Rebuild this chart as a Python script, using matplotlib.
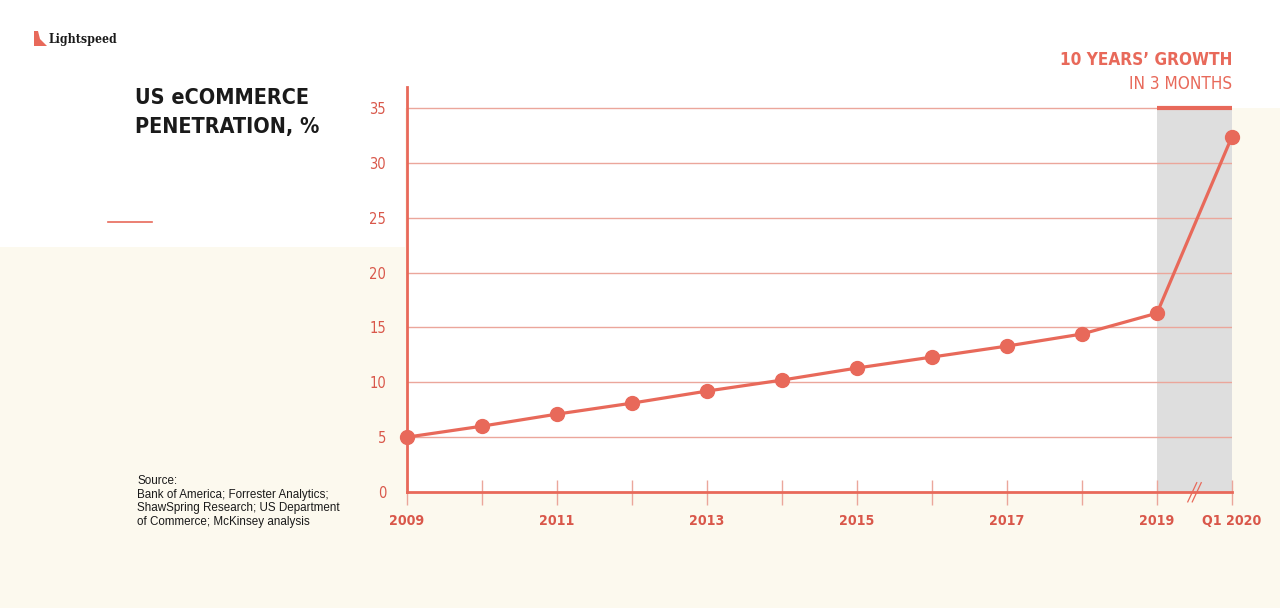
import matplotlib
matplotlib.use('Agg')
import matplotlib.pyplot as plt
from matplotlib.patches import Rectangle, Polygon
import matplotlib.lines as mlines

# dados - penetração do eCommerce nos EUA (%)
anos = ['2009', '2010', '2011', '2012', '2013', '2014', '2015', '2016', '2017', '2018', '2019', 'Q1 2020']
penetracao = [5.0, 6.0, 7.1, 8.1, 9.2, 10.2, 11.3, 12.3, 13.3, 14.4, 16.3, 32.4]
rotulos_x = ['2009', '', '2011', '', '2013', '', '2015', '', '2017', '', '2019', 'Q1 2020']
ticks_y = [0, 5, 10, 15, 20, 25, 30, 35]

vermelho = '#E8695A'
vermelho_txt = '#D9574A'
grade = '#EBA69B'
creme = '#FCF9EE'
cinza = '#DEDEDE'
narrow = dict(family='DejaVu Sans', fontstretch='condensed')

W, H = 1280, 608
fig = plt.figure(figsize=(W / 100, H / 100), dpi=100)
fig.patch.set_facecolor(creme)


def px(x, y):
    # converte pixel (topo-esquerda) para coordenadas da figura
    return x / W, 1 - y / H


# fundos brancos (atrás dos eixos)
fig.patches.append(Rectangle((0, 1 - 108 / H), 1, 108 / H, transform=fig.transFigure,
                             facecolor='white', edgecolor='none', zorder=-2))
fig.patches.append(Rectangle((0, 1 - 247 / H), 405 / W, 247 / H, transform=fig.transFigure,
                             facecolor='white', edgecolor='none', zorder=-2))
# tracinho vermelho à esquerda
fig.lines.append(mlines.Line2D([108 / W, 152 / W], [1 - 222 / H] * 2, transform=fig.transFigure,
                               color=vermelho, lw=1.2))

# logo
pts = [px(34, 31), px(38, 31), px(40, 39), px(47, 46), px(34, 46)]
fig.patches.append(Polygon(pts, closed=True, transform=fig.transFigure, facecolor=vermelho, edgecolor='none'))
fig.text(*px(49, 40), 'Lightspeed', fontsize=8.8, fontweight='bold', family='DejaVu Serif',
         fontstretch='condensed', color='#1a1a1a', va='center', ha='left')

# título
fig.text(*px(135, 88), 'US eCOMMERCE\nPENETRATION, %', fontsize=15.5, fontweight='bold', **narrow,
         color='#1a1a1a', va='top', ha='left', linespacing=1.55)

# cabeçalho da direita
fig.text(*px(1232, 60), '10 YEARS\u2019 GROWTH', fontsize=12.3, fontweight='bold', **narrow,
         color=vermelho, va='center', ha='right')
fig.text(*px(1232, 84), 'IN 3 MONTHS', fontsize=12.3, **narrow,
         color=vermelho, va='center', ha='right')

# fonte
fig.text(*px(137, 475), 'Source:\nBank of America; Forrester Analytics;\nShawSpring Research; US Department\nof Commerce; McKinsey analysis',
         fontsize=8.4, family='Liberation Sans', color='#1a1a1a', va='top', ha='left', linespacing=1.18)

# eixo principal
esq, dir_ = 407 / W, 1232 / W
base, topo = 1 - 492 / H, 1 - 87 / H
ax = fig.add_axes([esq, base, dir_ - esq, topo - base])
ax.set_facecolor('white')
x = list(range(len(anos)))
ymax = 35 + 21 / (384 / 35)
ax.set_xlim(0, len(anos) - 1)
ax.set_ylim(0, ymax)

# faixa cinza do último trimestre
ax.add_patch(Rectangle((x[-2], 0), 1, 35, facecolor=cinza, edgecolor='none', zorder=0))
ax.plot([x[-2], x[-1]], [35, 35], color=vermelho, lw=3, solid_capstyle='butt', zorder=3)

for v in ticks_y[1:]:
    ax.axhline(v, color=grade, lw=1, zorder=1)

ax.plot(x, penetracao, color=vermelho, lw=2.3, marker='o', markersize=10, zorder=4, clip_on=False)

for lado in ['top', 'right']:
    ax.spines[lado].set_visible(False)
for lado in ['left', 'bottom']:
    ax.spines[lado].set_color(vermelho)
    ax.spines[lado].set_linewidth(2)
    ax.spines[lado].set_zorder(5)

ax.set_yticks(ticks_y)
ax.set_yticklabels([str(v) for v in ticks_y], fontsize=10.5, **narrow, color=vermelho_txt)
ax.tick_params(axis='y', length=0, pad=15)
ax.set_xticks(x)
ax.set_xticklabels(rotulos_x, fontsize=10.2, fontweight='bold', **narrow, color=vermelho_txt)
ax.tick_params(axis='x', direction='inout', length=18, width=1, color=grade, pad=7)

# marca de quebra no eixo x
for dx in [0, 0.06]:
    ax.plot([10.41 + dx, 10.53 + dx], [-0.9, 0.85], color=vermelho, lw=0.9, clip_on=False, zorder=6)

fig.savefig('out.png', dpi=100, facecolor=fig.get_facecolor())
